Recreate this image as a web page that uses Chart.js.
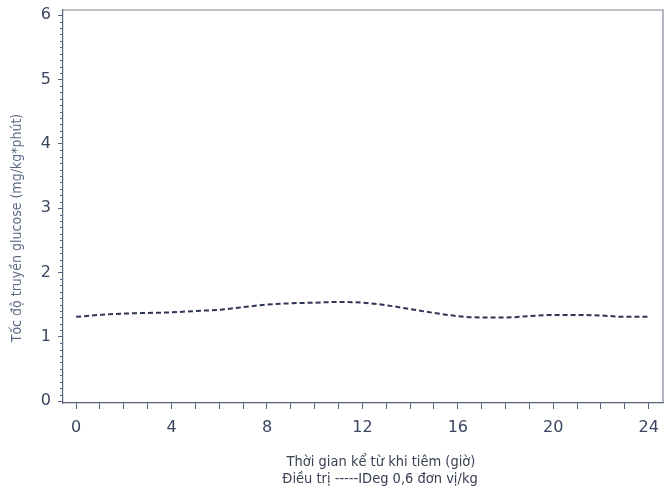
<!DOCTYPE html>
<html>
<head>
<meta charset="utf-8">
<script src="https://cdn.jsdelivr.net/npm/chart.js@4/dist/chart.umd.min.js"></script>
<style>
  html, body { margin: 0; padding: 0; background: #ffffff; }
  #wrap { width: 671px; height: 488px; }
</style>
</head>
<body>
<div id="wrap"><canvas id="c" width="671" height="488"></canvas></div>
<script>
// Glucose infusion rate after a single IDeg 0.6 U/kg dose, hourly readings
const hours = [0,1,2,3,4,5,6,7,8,9,10,11,12,13,14,15,16,17,18,19,20,21,22,23,24];
const girValues = [1.31,1.34,1.36,1.37,1.38,1.40,1.42,1.46,1.50,1.52,1.53,1.54,1.53,1.49,1.43,1.37,1.32,1.30,1.30,1.32,1.34,1.34,1.33,1.31,1.31];
const xTickValues = [0,1,2,3,4,5,6,7,8,9,10,11,12,13,14,15,16,17,18,19,20,21,22,23,24];
const yTickValues = [0,1,2,3,4,5,6];
const seriesName = 'IDeg 0,6 đơn vị/kg';
const xTitle = 'Thời gian kể từ khi tiêm (giờ)';
const legendLine = 'Điều trị -----IDeg 0,6 đơn vị/kg';
const yTitle = 'Tốc độ truyền glucose (mg/kg*phút)';

const AXIS = '#56627e';
const FRAME = '#7d8496';
const TICK_TEXT = '#3a4560';

// frame, minor y ticks and axis titles
const decor = {
  id: 'decor',
  afterDraw(chart) {
    const { ctx, chartArea: a, scales } = chart;
    ctx.save();
    // top and right sides of the frame
    ctx.strokeStyle = FRAME;
    ctx.lineWidth = 1.2;
    ctx.beginPath();
    ctx.moveTo(a.left, a.top);
    ctx.lineTo(a.right, a.top);
    ctx.lineTo(a.right, a.bottom);
    ctx.stroke();
    // minor ticks on the y axis every 0.1
    ctx.strokeStyle = AXIS;
    ctx.lineWidth = 1;
    ctx.beginPath();
    for (let i = 0; i <= 60; i++) {
      if (i % 10 === 0) continue;
      const y = Math.round(scales.y.getPixelForValue(i / 10)) + 0.5;
      ctx.moveTo(a.left - 3, y);
      ctx.lineTo(a.left, y);
    }
    ctx.stroke();
    // axis titles
    ctx.fillStyle = '#3a4152';
    ctx.font = '14.5px "DejaVu Sans Condensed", "DejaVu Sans", sans-serif';
    ctx.textAlign = 'center';
    ctx.textBaseline = 'middle';
    ctx.fillText(xTitle, 381, 462);
    ctx.fillText(legendLine, 380, 479);
    ctx.translate(17, 228);
    ctx.rotate(-Math.PI / 2);
    ctx.fillStyle = '#5d6a85';
    ctx.font = '14px "DejaVu Sans Condensed", "DejaVu Sans", sans-serif';
    ctx.fillText(yTitle, 0, 0);
    ctx.restore();
  }
};

new Chart(document.getElementById('c'), {
  type: 'line',
  data: {
    datasets: [{
      label: seriesName,
      data: hours.map((h, i) => ({ x: h, y: girValues[i] })),
      borderColor: '#2d3654',
      borderWidth: 2,
      borderDash: [5, 3],
      pointRadius: 0,
      tension: 0.4,
      cubicInterpolationMode: 'monotone',
      fill: false
    }]
  },
  options: {
    responsive: false,
    devicePixelRatio: 1,
    animation: false,
    layout: { padding: { left: 0, right: 8, top: 10, bottom: 0 } },
    plugins: { legend: { display: false }, tooltip: { enabled: false } },
    scales: {
      x: {
        type: 'linear',
        min: -0.55,
        max: 24.6,
        afterBuildTicks: s => { s.ticks = xTickValues.map(v => ({ value: v })); },
        afterFit: s => { s.height = 85; },
        ticks: {
          autoSkip: false,
          maxRotation: 0,
          callback: v => (v % 4 === 0 ? String(v) : ''),
          font: { family: '"DejaVu Sans", sans-serif', size: 16 },
          color: TICK_TEXT,
          padding: 9
        },
        grid: { drawOnChartArea: false, drawTicks: true, tickLength: 6, tickColor: AXIS },
        border: { color: AXIS, width: 1.2 }
      },
      y: {
        min: -0.03,
        max: 6.08,
        afterBuildTicks: s => { s.ticks = yTickValues.map(v => ({ value: v })); },
        afterFit: s => { s.width = 63; s.paddingTop = 0; s.paddingBottom = 0; },
        ticks: {
          callback: v => String(v),
          font: { family: '"DejaVu Sans", sans-serif', size: 16 },
          color: TICK_TEXT,
          padding: 7
        },
        grid: { drawOnChartArea: false, drawTicks: true, tickLength: 5, tickColor: AXIS },
        border: { color: AXIS, width: 1.2 }
      }
    }
  },
  plugins: [decor]
});
</script>
</body>
</html>
